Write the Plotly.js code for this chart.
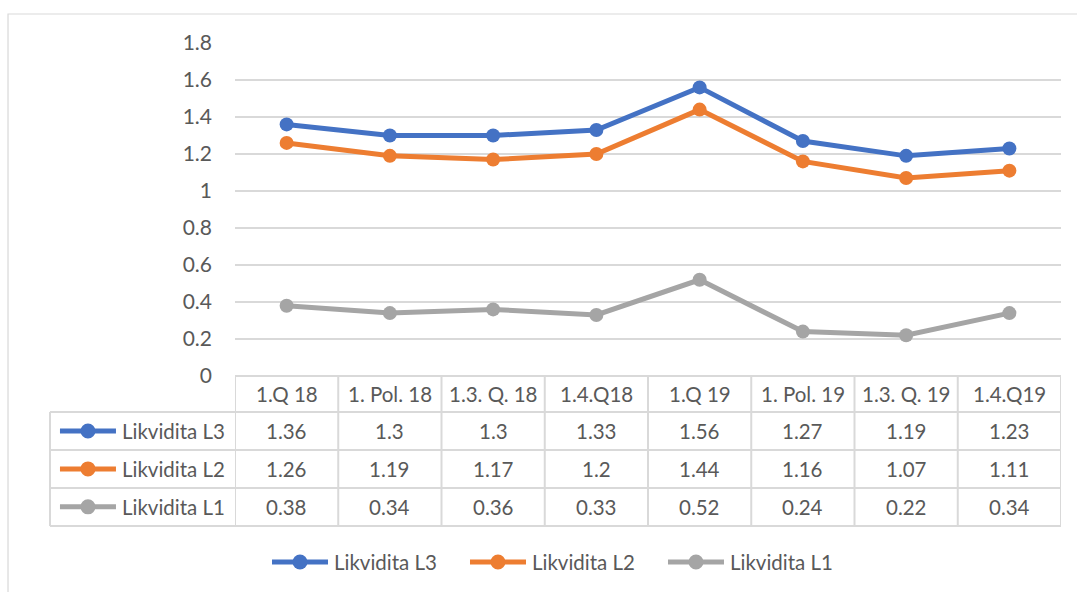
<!DOCTYPE html>
<html>
<head>
<meta charset="utf-8">
<script src="https://cdn.plot.ly/plotly-3.0.1.min.js"></script>
<style>html,body{margin:0;padding:0;background:#fff}#chart{width:1077px;height:592px}</style>
</head>
<body>
<div id="chart"></div>
<script>
const categories = ['1.Q 18','1. Pol. 18','1.3. Q. 18','1.4.Q18','1.Q 19','1. Pol. 19','1.3. Q. 19','1.4.Q19'];
const seriesNames = ['Likvidita L3','Likvidita L2','Likvidita L1'];
const likviditaL3 = [1.36, 1.3, 1.3, 1.33, 1.56, 1.27, 1.19, 1.23];
const likviditaL2 = [1.26, 1.19, 1.17, 1.2, 1.44, 1.16, 1.07, 1.11];
const likviditaL1 = [0.38, 0.34, 0.36, 0.33, 0.52, 0.24, 0.22, 0.34];
const yTicks = [0, 0.2, 0.4, 0.6, 0.8, 1, 1.2, 1.4, 1.6, 1.8];

const colors = ['#4472C4', '#ED7D31', '#A5A5A5'];
const seriesData = [likviditaL3, likviditaL2, likviditaL1];
const FONT = 'Lato, "Open Sans", sans-serif';
const TXT = '#595959';
const BORDER = '#D9D9D9';
const FS = 20.5;

const traces = seriesData.map((vals, k) => ({
  type: 'scatter', mode: 'lines+markers', name: seriesNames[k],
  x: categories.map((c, i) => i), y: vals,
  line: {color: colors[k], width: 5},
  marker: {color: colors[k], size: 14},
  hoverinfo: 'skip', showlegend: false
}));

// table geometry in paper coords
const rowEdges = [0, -0.1081, -0.2222, -0.3363, -0.4505];
const rowCenters = [-0.054, -0.165, -0.279, -0.393];
const tableLeft = -0.224;

const shapes = [];
const annotations = [];
// outer chart border
shapes.push({type: 'rect', xref: 'paper', yref: 'paper', x0: -0.2748, x1: 1.05, y0: -0.70, y1: 1.0871,
  line: {color: BORDER, width: 1.2}, layer: 'below'});
// horizontal table lines
rowEdges.forEach((y, r) => {
  shapes.push({type: 'line', xref: 'paper', yref: 'paper', x0: r === 0 ? 0 : tableLeft, x1: 1, y0: y, y1: y,
    line: {color: BORDER, width: 2}});
});
shapes.push({type: 'line', xref: 'paper', yref: 'paper', x0: tableLeft, x1: tableLeft, y0: rowEdges[1], y1: rowEdges[4],
  line: {color: BORDER, width: 2}});
for (let i = 0; i <= categories.length; i++) {
  shapes.push({type: 'line', xref: 'x', yref: 'paper', x0: i - 0.5, x1: i - 0.5, y0: 0, y1: rowEdges[4],
    line: {color: BORDER, width: 2}});
}
categories.forEach((c, i) => {
  annotations.push({xref: 'x', yref: 'paper', x: i, y: rowCenters[0], text: c, showarrow: false,
    font: {family: FONT, size: FS, color: TXT}, xanchor: 'center', yanchor: 'middle'});
});

function legendKey(x0, x1, xm, y, color) {
  shapes.push({type: 'line', xref: 'paper', yref: 'paper', x0: x0, x1: x1, y0: y, y1: y,
    line: {color: color, width: 5}});
  shapes.push({type: 'circle', xref: 'paper', yref: 'paper', xsizemode: 'pixel', ysizemode: 'pixel',
    xanchor: xm, yanchor: y, x0: -7.5, x1: 7.5, y0: -7.5, y1: 7.5,
    fillcolor: color, line: {color: color, width: 0}});
}

seriesData.forEach((vals, k) => {
  const yc = rowCenters[k + 1];
  legendKey(-0.2119, -0.1441, -0.1780, yc, colors[k]);
  annotations.push({xref: 'paper', yref: 'paper', x: -0.1392, y: yc, text: seriesNames[k], showarrow: false,
    font: {family: FONT, size: FS, color: TXT}, xanchor: 'left', yanchor: 'middle'});
  vals.forEach((v, i) => {
    annotations.push({xref: 'x', yref: 'paper', x: i, y: yc, text: String(v), showarrow: false,
      font: {family: FONT, size: FS, color: TXT}, xanchor: 'center', yanchor: 'middle'});
  });
});

// bottom legend
const legY = -0.5586;
const legStarts = [0.0448, 0.2845, 0.5242];
legStarts.forEach((s, k) => {
  legendKey(s, s + 0.0678, s + 0.0339, legY, colors[k]);
  annotations.push({xref: 'paper', yref: 'paper', x: s + 0.0726, y: legY, text: seriesNames[k], showarrow: false,
    font: {family: FONT, size: FS, color: TXT}, xanchor: 'left', yanchor: 'middle'});
});

const layout = {
  width: 1077, height: 592,
  margin: {l: 235, r: 16, t: 43, b: 216},
  paper_bgcolor: '#fff', plot_bgcolor: '#fff',
  font: {family: FONT, size: FS, color: TXT},
  xaxis: {range: [-0.5, categories.length - 0.5], showticklabels: false, showgrid: false,
    zeroline: false, showline: false, ticks: '', fixedrange: true},
  yaxis: {range: [0, 1.8], tickvals: yTicks, ticktext: yTicks.map(String), showgrid: true,
    gridcolor: BORDER, gridwidth: 1.5, zeroline: false, showline: false, ticks: '',
    ticklabelstandoff: 22, tickfont: {family: FONT, size: 21, color: TXT}, fixedrange: true},
  showlegend: false,
  shapes: shapes, annotations: annotations
};

Plotly.newPlot('chart', traces, layout, {displayModeBar: false, staticPlot: true});
</script>
</body>
</html>
